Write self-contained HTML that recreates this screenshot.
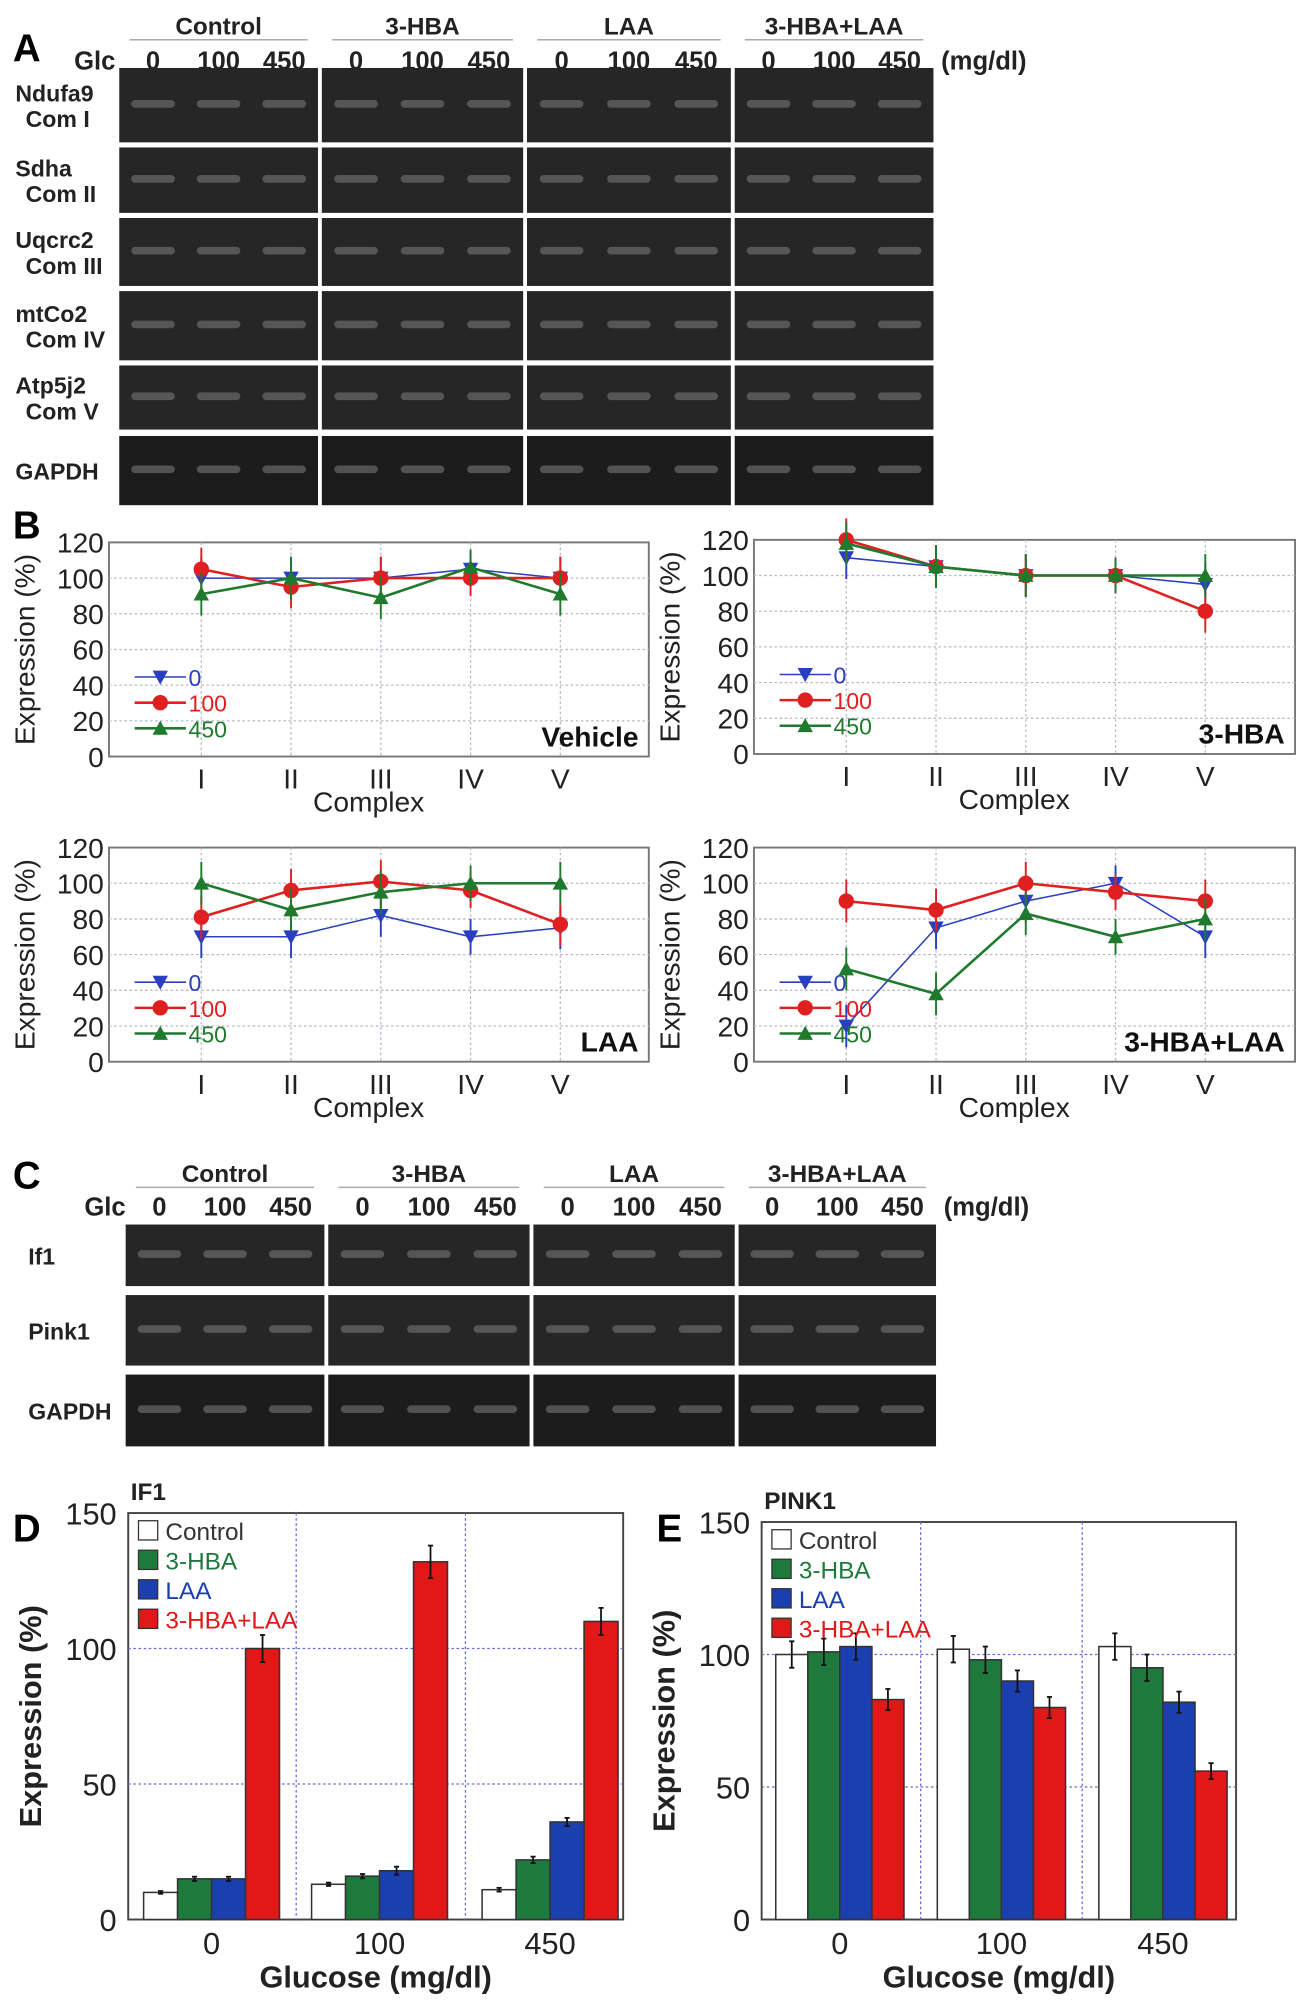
<!DOCTYPE html>
<html><head><meta charset="utf-8"><style>
html,body{margin:0;padding:0;background:#fff;}
svg{display:block;font-family:"Liberation Sans",Arial,sans-serif;}
</style></head><body>
<svg id="fig" width="1313" height="2008" viewBox="0 0 1024 1566" xmlns="http://www.w3.org/2000/svg">
<g id="root"></g>
</svg>
<script>
// ---------- data ----------
const groupsA = ["Control","3-HBA","LAA","3-HBA+LAA"];
const glcLevels = ["0","100","450"];
const genesA = [["Ndufa9","Com I"],["Sdha","Com II"],["Uqcrc2","Com III"],["mtCo2","Com IV"],["Atp5j2","Com V"],["GAPDH",""]];
const genesC = ["If1","Pink1","GAPDH"];
const complexes = ["I","II","III","IV","V"];
const lineTicks = [0,20,40,60,80,100,120];
const vehicle0 = [100,100,100,105,100];
const vehicle100 = [105,95,100,100,100];
const vehicle450 = [91,100,89,106,91];
const hba0 = [110,105,100,100,95];
const hba100 = [120,105,100,100,80];
const hba450 = [118,105,100,100,100];
const laa0 = [70,70,82,70,75];
const laa100 = [81,96,101,96,77];
const laa450 = [100,85,95,100,100];
const combo0 = [20,75,90,100,70];
const combo100 = [90,85,100,95,90];
const combo450 = [52,38,83,70,80];
const lineErr = [12,12,12,10,12];
const glucoseCats = ["0","100","450"];
const barSeries = ["Control","3-HBA","LAA","3-HBA+LAA"];
const barTicks = [0,50,100,150];
const if1Control = [10,13,11];
const if1Hba = [15,16,22];
const if1Laa = [15,18,36];
const if1Combo = [100,132,110];
const if1Err = [[0.5,0.6,0.7],[0.8,0.8,1.2],[0.8,1.5,1.5],[5,6,5]];
const pinkControl = [100,102,103];
const pinkHba = [101,98,95];
const pinkLaa = [103,90,82];
const pinkCombo = [83,80,56];
const pinkErr = [[5,5,5],[5,5,5],[5,4,4],[4,4,3]];

const NS="http://www.w3.org/2000/svg";
const root=document.getElementById('root');
function mk(tag,attrs,parent,text){const e=document.createElementNS(NS,tag);for(const k in attrs)e.setAttribute(k,attrs[k]);if(text!==undefined)e.textContent=text;(parent||root).appendChild(e);return e;}

[["A",10,48],["B",10,420],["C",10,927],["D",10,1202],["E",512,1202]].forEach(p=>{
  const t=mk('text',{x:p[1],y:p[2],'font-size':30,'font-weight':'bold'},root,p[0]);
  
  
});

function gelBlock(cols,rows,headerY,glcY,labelX,labels,glcX){
  cols.forEach((c,gi)=>{
    const h=mk('text',{x:(c[0]+c[1])/2,y:headerY,'text-anchor':'middle','font-size':19,'font-weight':'bold',fill:'#222'},root,groupsA[gi]);
    
    
    mk('line',{x1:c[0]+8,x2:c[1]-8,y1:headerY+4,y2:headerY+4,stroke:'#aaa','stroke-width':1.2});
    glcLevels.forEach((g,li)=>{
      const lx=c[0]+(c[1]-c[0])*(0.17+li*0.33);
      const t=mk('text',{x:lx,y:glcY,'text-anchor':'middle','font-size':20,'font-weight':'bold',fill:'#222'},root,g);
      
      
    });
  });
  const gl=mk('text',{x:glcX,y:glcY,'text-anchor':'end','font-size':20,'font-weight':'bold',fill:'#222'},root,'Glc');
  
  
  const u=mk('text',{x:cols[3][1]+6,y:glcY,'font-size':20,'font-weight':'bold',fill:'#222'},root,'(mg/dl)');
  
  
  rows.forEach((r,ri)=>{
    cols.forEach((c,ci)=>{
      const g=mk('rect',{x:c[0],y:r[0],width:c[1]-c[0],height:r[1]-r[0],fill:ri===rows.length-1?'#1c1c1c':'#262626'});
      
      
      for(let l=0;l<3;l++){
        const lx=c[0]+(c[1]-c[0])*(0.17+l*0.33);
        mk('rect',{x:lx-17,y:(r[0]+r[1])/2-4,width:34,height:6,rx:3,fill:'#777',opacity:0.6});
      }
    });
    const lab=labels[ri];
    const lines=Array.isArray(lab)?lab:[lab];
    const cy=(r[0]+r[1])/2;
    lines.filter(s=>s).forEach((s,k,arr)=>{
      const t=mk('text',{x:labelX+(k===1?8:0),y:cy+7+(k-(arr.length-1)/2)*20,'font-size':18,'font-weight':'bold',fill:'#222'},root,s);
      
      
    });
  });
}
gelBlock([[93,248],[251,408],[411,570],[573,728]],[[53,111],[115,166],[170,223],[227,281],[285,335],[340,394]],27,54,12,genesA,90);
gelBlock([[98,253],[256,413],[416,573],[576,730]],[[955,1003],[1010,1065],[1072,1128]],922,948,22,genesC,98);

const lineColors=["#2a3fc0","#e02020","#1f7a2e"];
function lineChart(px,py,pw,ph,series,title,name){
  const xs=i=>px+72+i*70, ys=v=>py+ph-v*ph/120;
  const g=mk('g',{});
  
  
  mk('rect',{x:px,y:py,width:pw,height:ph,fill:'#fff',stroke:'#777','stroke-width':1.5},g);
  lineTicks.forEach(t=>{
    if(t>0&&t<120) mk('line',{x1:px,x2:px+pw,y1:ys(t),y2:ys(t),stroke:'#b8b8c8','stroke-dasharray':'2,2'},g);
    const tl=mk('text',{x:px-4,y:ys(t)+8,'text-anchor':'end','font-size':22,fill:'#222'},g,String(t));
    
    
  });
  complexes.forEach((c,i)=>{
    mk('line',{x1:xs(i),x2:xs(i),y1:py,y2:py+ph,stroke:'#b8b8c8','stroke-dasharray':'2,2'},g);
    const tl=mk('text',{x:xs(i),y:py+ph+25,'text-anchor':'middle','font-size':22,fill:'#222'},g,c);
    
    
  });
  const yt=mk('text',{transform:`translate(${px-58},${py+ph/2}) rotate(-90)`,'text-anchor':'middle','font-size':22,fill:'#222'},g,'Expression (%)');
  
  
  const xt=mk('text',{x:px+pw/2-8,y:py+ph+43,'text-anchor':'middle','font-size':22,fill:'#222'},g,'Complex');
  
  
  series.forEach((s,si)=>{
    const col=lineColors[si];
    s.forEach((v,i)=>mk('line',{x1:xs(i),x2:xs(i),y1:ys(v-lineErr[i]),y2:ys(v+lineErr[i]),stroke:col,'stroke-width':1.5},g));
    const pl=mk('polyline',{points:s.map((v,i)=>xs(i)+','+ys(v)).join(' '),fill:'none',stroke:col,'stroke-width':si===0?1.2:2},g);
    
    
    s.forEach((v,i)=>{
      const x=xs(i),y=ys(v);
      let m;
      if(si===0) m=mk('polygon',{points:`${x-6},${y-5} ${x+6},${y-5} ${x},${y+6}`,fill:col},g);
      else if(si===1) m=mk('circle',{cx:x,cy:y,r:6,fill:col},g);
      else m=mk('polygon',{points:`${x-6},${y+5} ${x+6},${y+5} ${x},${y-6}`,fill:col},g);
      
      
    });
    const ly=py+ph-62+si*20;
    mk('line',{x1:px+20,x2:px+60,y1:ly,y2:ly,stroke:col,'stroke-width':si===0?1.2:2},g);
    const lx=px+40;
    if(si===0) mk('polygon',{points:`${lx-6},${ly-5} ${lx+6},${ly-5} ${lx},${ly+6}`,fill:col},g);
    else if(si===1) mk('circle',{cx:lx,cy:ly,r:6,fill:col},g);
    else mk('polygon',{points:`${lx-6},${ly+5} ${lx+6},${ly+5} ${lx},${ly-6}`,fill:col},g);
    const lt=mk('text',{x:px+62,y:ly+7,'font-size':18,fill:col},g,glcLevels[si]);
    
    
  });
  const tt=mk('text',{x:px+pw-8,y:py+ph-8,'text-anchor':'end','font-size':22,'font-weight':'bold',fill:'#111'},g,title);
  
  
}
lineChart(85,423,421,167,[vehicle0,vehicle100,vehicle450],'Vehicle','vehicle-chart');
lineChart(588,421,422,167,[hba0,hba100,hba450],'3-HBA','hba-chart');
lineChart(85,661,421,167,[laa0,laa100,laa450],'LAA','laa-chart');
lineChart(588,661,422,167,[combo0,combo100,combo450],'3-HBA+LAA','combo-chart');

const barColors=["#ffffff","#1e7a3c","#1c3fb0","#e01818"];
const legendText=["#333","#1e7a3c","#1c3fb0","#e01818"];
function barChart(px,py,pw,ph,series,errs,title,name,catXs,bw,gridXs){
  const ys=v=>py+ph-v*ph/150;
  const g=mk('g',{});
  
  
  mk('rect',{x:px,y:py,width:pw,height:ph,fill:'#fff',stroke:'#444','stroke-width':1.5},g);
  [50,100].forEach(t=>mk('line',{x1:px,x2:px+pw,y1:ys(t),y2:ys(t),stroke:'#6a6ad8','stroke-dasharray':'2,2'},g));
  gridXs.forEach(x=>mk('line',{x1:x,x2:x,y1:py,y2:py+ph,stroke:'#6a6ad8','stroke-dasharray':'2,2'},g));
  barTicks.forEach(t=>{
    const tl=mk('text',{x:px-9,y:ys(t)+9,'text-anchor':'end','font-size':24,fill:'#222'},g,String(t));
    
    
  });
  glucoseCats.forEach((c,ci)=>{
    const tl=mk('text',{x:catXs[ci],y:py+ph+27,'text-anchor':'middle','font-size':24,fill:'#222'},g,c);
    
    
    series.forEach((s,si)=>{
      const x=catXs[ci]-2*bw+si*bw;
      const r=mk('rect',{x:x,y:ys(s[ci]),width:bw,height:ys(0)-ys(s[ci]),fill:barColors[si],stroke:'#333','stroke-width':1.2},g);
      
      
      const e=errs[si][ci], cx=x+bw/2;
      mk('line',{x1:cx,x2:cx,y1:ys(s[ci]-e),y2:ys(s[ci]+e),stroke:'#111','stroke-width':1.4},g);
      mk('line',{x1:cx-2,x2:cx+2,y1:ys(s[ci]+e),y2:ys(s[ci]+e),stroke:'#111','stroke-width':1.4},g);
      mk('line',{x1:cx-2,x2:cx+2,y1:ys(s[ci]-e),y2:ys(s[ci]-e),stroke:'#111','stroke-width':1.4},g);
    });
  });
  barSeries.forEach((s,si)=>{
    const ly=py+6+si*23;
    mk('rect',{x:px+8,y:ly,width:15,height:15,fill:barColors[si],stroke:'#333'},g);
    const lt=mk('text',{x:px+29,y:ly+15,'font-size':19,fill:legendText[si]},g,s);
    
    
  });
  const tt=mk('text',{x:px+2,y:py-10,'font-size':19,'font-weight':'bold',fill:'#222'},g,title);
  
  
  const yt=mk('text',{transform:`translate(${px-68},${py+ph/2}) rotate(-90)`,'text-anchor':'middle','font-size':24,'font-weight':'bold',fill:'#222'},g,'Expression (%)');
  
  
  const xt=mk('text',{x:px+pw/2,y:py+ph+53,'text-anchor':'middle','font-size':24,'font-weight':'bold',fill:'#222'},g,'Glucose (mg/dl)');
  
  
}
barChart(100,1180,386,317,[if1Control,if1Hba,if1Laa,if1Combo],if1Err,'IF1','if1-bar-chart',[165,296,429],26.5,[231,363]);
barChart(594,1187,370,310,[pinkControl,pinkHba,pinkLaa,pinkCombo],pinkErr,'PINK1','pink1-bar-chart',[655,781,907],25,[718,844]);
</script>
</body></html>
